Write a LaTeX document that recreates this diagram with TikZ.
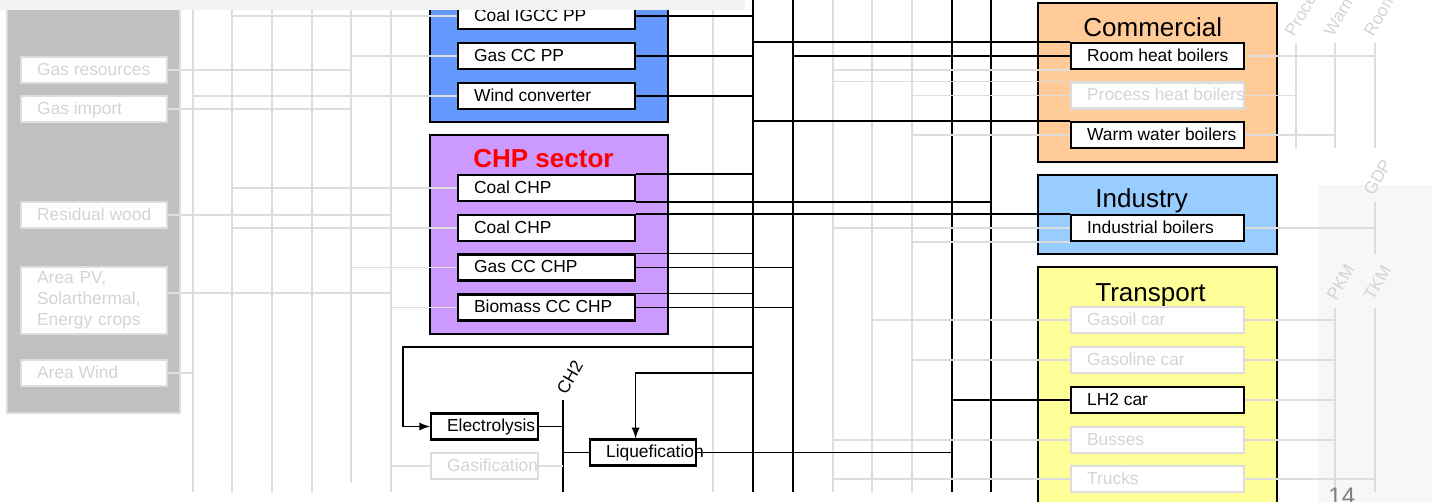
\documentclass[tikz,border=0pt]{standalone}
\usepackage{fontspec}
\setmainfont{Liberation Sans}
\usepackage{tikz}
\usetikzlibrary{arrows,calc}

\definecolor{powerblue}{HTML}{6699FF}
\definecolor{chppurple}{HTML}{CC99FF}
\definecolor{comorange}{HTML}{FFCC99}
\definecolor{indblue}{HTML}{99CCFF}
\definecolor{trayellow}{HTML}{FFFF99}
\definecolor{resgray}{HTML}{C0C0C0}
\definecolor{offline}{HTML}{DDDDDD}
\definecolor{offtext}{HTML}{D4D4D4}
\definecolor{stripgray}{HTML}{F2F2F2}
\definecolor{glassgray}{HTML}{F7F7F7}
\definecolor{pagegray}{HTML}{808080}

\newcommand{\unitfont}{\fontsize{8.7}{10.6}\selectfont}
\newcommand{\titlefont}{\fontsize{13}{15}\selectfont}

\begin{document}
\begin{tikzpicture}[x=0.5pt, y=-0.5pt,
    unit/.style={draw=black, line width=1.1pt, fill=white, anchor=west, inner xsep=8pt, inner ysep=0pt, minimum height=13pt, font=\unitfont},
    fixw/.style={text height=6.5pt, text depth=1pt, execute at begin node={\hbox to #1\bgroup}, execute at end node={\hss\egroup}},
    off/.style={draw=offline, text=offtext},
    sector/.style={draw=black, line width=1.1pt},
    title/.style={anchor=base west, inner sep=0pt, font=\titlefont},
    carrier/.style={draw=black, line width=0.85pt},
    offcarrier/.style={draw=offline, line width=0.85pt},
    arrow/.style={carrier, ->, >=latex},
    demand/.style={anchor=west, rotate=60, inner sep=0pt, font=\unitfont, text=offtext}
]

\useasboundingbox (0,0) rectangle (1432,502);
\clip (0,0) rectangle (1432,502);

% Slide background
\fill[glassgray] (1318,185) rectangle (1432,502);

% Sectors
\draw[draw=offline, line width=1.1pt, fill=resgray] (7,-10) rectangle (180,413);
\draw[sector, fill=powerblue] (430,-10) rectangle (668,122);
\draw[sector, fill=chppurple] (430,135) rectangle (668,334);
\draw[sector, fill=comorange] (1038,3) rectangle (1277,162);
\draw[sector, fill=indblue] (1038,175) rectangle (1277,254);
\draw[sector, fill=trayellow] (1038,267) rectangle (1277,520);

% Resources
\node[unit, off, fixw=57pt] (gasres) at (20,70) {Gas resources};
\node[unit, off, fixw=57pt] (gasimp) at (20,109) {Gas import};
\node[unit, off, fixw=57pt] (reswood) at (20,215) {Residual wood};
\node[unit, off, text width=57pt, align=left, minimum height=33.5pt] (areapv) at (20,300.5) {Area PV,\\Solarthermal,\\Energy crops};
\node[unit, off, fixw=57pt] (areawind) at (20,373) {Area Wind};

% Power plants
\node[unit, fixw=72.5pt] (coaligcc) at (457,16) {Coal IGCC PP};
\node[unit, fixw=72.5pt] (gasccpp) at (457,56) {Gas CC PP};
\node[unit, fixw=72.5pt] (windconv) at (457,96) {Wind converter};

% CHP sector
\node[title, text=red, font=\titlefont\bfseries] (chptitle) at (473,168) {CHP sector};
\node[unit, fixw=72.5pt] (coalchpa) at (457,188) {Coal CHP};
\node[unit, fixw=72.5pt] (coalchpb) at (457,228) {Coal CHP};
\node[unit, fixw=72.5pt] (gaschp) at (457,267.5) {Gas CC CHP};
\node[unit, fixw=72.5pt] (biochp) at (457,307.5) {Biomass CC CHP};

% Hydrogen
\node[unit, fixw=37.5pt] (electro) at (430,426.5) {Electrolysis};
\node[unit, off, fixw=37.5pt] (gasif) at (430,466) {Gasification};
\node[unit, fixw=37pt] (liquef) at (589,452.5) {Liquefication};
\node[anchor=west, rotate=60, inner sep=0pt, font=\unitfont] (chtwolabel) at (561,393) {CH2};

% Commercial
\node[title] (comtitle) at (1083,37) {Commercial};
\node[unit, fixw=70.5pt] (roomheat) at (1070,56) {Room heat boilers};
\node[unit, off, fixw=70.5pt] (procheat) at (1070,95.5) {Process heat boilers};
\node[unit, fixw=70.5pt] (warmwater) at (1070,135) {Warm water boilers};

% Industry
\node[title] (indtitle) at (1095,208) {Industry};
\node[unit, fixw=70.5pt] (indboil) at (1070,228) {Industrial boilers};

% Transport
\node[title] (trtitle) at (1095,302) {Transport};
\node[unit, off, fixw=70.5pt] (gasoilcar) at (1070,320) {Gasoil car};
\node[unit, off, fixw=70.5pt] (gasolinecar) at (1070,360) {Gasoline car};
\node[unit, fixw=70.5pt] (lhtwocar) at (1070,400) {LH2 car};
\node[unit, off, fixw=70.5pt] (busses) at (1070,440) {Busses};
\node[unit, off, fixw=70.5pt] (trucks) at (1070,479) {Trucks};

% Carrier buses
\coordinate (windbus) at (193,0);
\coordinate (coalbus) at (232,0);
\coordinate (cbusc) at (272,0);
\coordinate (cbusd) at (312,0);
\coordinate (gasbus) at (351,0);
\coordinate (biobus) at (391,0);
\coordinate (cbuse) at (713,0);
\coordinate (elecbus) at (753,0);
\coordinate (heatbus) at (793,0);
\coordinate (fbusa) at (833,0);
\coordinate (fbusb) at (872,0);
\coordinate (fbusc) at (912,0);
\coordinate (lhtwobus) at (952,0);
\coordinate (steambus) at (991,0);
\coordinate (chtwobus) at (563,400);

\draw[offcarrier] (windbus) -- ++(0,492);
\draw[offcarrier] (coalbus) -- ++(0,492);
\draw[offcarrier] (cbusc) -- ++(0,492);
\draw[offcarrier] (cbusd) -- ++(0,492);
\draw[offcarrier] (gasbus) -- ++(0,483);
\draw[offcarrier] (biobus) -- ++(0,492);
\draw[offcarrier] (cbuse) -- ++(0,492);
\draw[offcarrier] (fbusa) -- ++(0,492);
\draw[offcarrier] (fbusb) -- ++(0,492);
\draw[offcarrier] (fbusc) -- ++(0,492);
\draw[carrier] (elecbus) -- ++(0,492);
\draw[carrier] (heatbus) -- ++(0,492);
\draw[carrier] (lhtwobus) -- ++(0,492);
\draw[carrier] (steambus) -- ++(0,492);
\draw[carrier] (chtwobus) -- ++(0,92);

% Demand buses
\coordinate (proc) at (1296,43);
\coordinate (warm) at (1335,43);
\coordinate (room) at (1375,43);
\coordinate (gdp) at (1375,202);
\coordinate (pkm) at (1335,308);
\coordinate (tkm) at (1375,308);
\draw[offcarrier] (proc) -- ++(0,105);
\draw[offcarrier] (warm) -- ++(0,105);
\draw[offcarrier] (room) -- ++(0,105);
\draw[offcarrier] (gdp) -- ++(0,52);
\draw[offcarrier] (pkm) -- ++(0,184);
\draw[offcarrier] (tkm) -- ++(0,184);
\node[demand] (proclabel) at (1289,35) {Process};
\node[demand] (warmlabel) at (1328,35) {Warm};
\node[demand] (roomlabel) at (1368,35) {Room};
\node[demand] (gdplabel) at (1368,194) {GDP};
\node[demand] (pkmlabel) at (1331,299) {PKM};
\node[demand] (tkmlabel) at (1368,299) {TKM};

% Inactive flows
\draw[offcarrier] (gasres.east) -- (gasres.east -| gasbus);
\draw[offcarrier] (gasimp.east) -- (gasimp.east -| gasbus);
\draw[offcarrier] (reswood.east) -- (reswood.east -| biobus);
\draw[offcarrier] ([yshift=3.75pt]areapv.east) -- ([yshift=3.75pt]areapv.east -| biobus);
\draw[offcarrier] (areawind.east) -- (areawind.east -| windbus);
\draw[offcarrier] (coaligcc.west -| coalbus) -- (coaligcc.west);
\draw[offcarrier] (gasccpp.west -| gasbus) -- (gasccpp.west);
\draw[offcarrier] (windconv.west -| windbus) -- (windconv.west);
\draw[offcarrier] (coalchpa.west -| coalbus) -- (coalchpa.west);
\draw[offcarrier] (coalchpb.west -| coalbus) -- (coalchpb.west);
\draw[offcarrier] (gaschp.west -| gasbus) -- (gaschp.west);
\draw[offcarrier] (biochp.west -| biobus) -- (biochp.west);
\draw[offcarrier] (gasif.west -| biobus) -- (gasif.west);
\draw[offcarrier] (gasif.east) -- (gasif.east -| chtwobus);
\draw[offcarrier] (roomheat.south west -| fbusa) -- (roomheat.south west);
\draw[offcarrier] (procheat.north west -| fbusa) -- (procheat.north west);
\draw[offcarrier] (procheat.west -| fbusc) -- (procheat.west);
\draw[offcarrier] (warmwater.west -| fbusc) -- (warmwater.west);
\draw[offcarrier] (indboil.west -| fbusa) -- (indboil.west);
\draw[offcarrier] (indboil.south west -| fbusc) -- (indboil.south west);
\draw[offcarrier] (gasoilcar.west -| fbusb) -- (gasoilcar.west);
\draw[offcarrier] (gasolinecar.west -| fbusc) -- (gasolinecar.west);
\draw[offcarrier] (busses.west -| fbusa) -- (busses.west);
\draw[offcarrier] (trucks.west -| fbusa) -- (trucks.west);
\draw[offcarrier] (roomheat.east) -- (roomheat.east -| room);
\draw[offcarrier] (procheat.east) -- (procheat.east -| proc);
\draw[offcarrier] (warmwater.east) -- (warmwater.east -| warm);
\draw[offcarrier] (indboil.east) -- (indboil.east -| gdp);
\draw[offcarrier] (gasoilcar.east) -- (gasoilcar.east -| pkm);
\draw[offcarrier] (gasolinecar.east) -- (gasolinecar.east -| pkm);
\draw[offcarrier] (lhtwocar.east) -- (lhtwocar.east -| pkm);
\draw[offcarrier] (busses.east) -- (busses.east -| pkm);
\draw[offcarrier] (trucks.east) -- (trucks.east -| tkm);

% Electricity and heat
\draw[carrier] (coaligcc.east) -- (coaligcc.east -| elecbus);
\draw[carrier] (gasccpp.east) -- (gasccpp.east -| elecbus);
\draw[carrier] (windconv.east) -- (windconv.east -| elecbus);
\draw[carrier] (coalchpa.north east) -- (coalchpa.north east -| elecbus);
\draw[carrier] (coalchpa.south east) -- (coalchpa.south east -| steambus);
\draw[carrier] (coalchpb.north east) -- (indboil.north west);
\draw[carrier] (gaschp.north east) -- (gaschp.north east -| elecbus);
\draw[carrier] (gaschp.east) -- (gaschp.east -| heatbus);
\draw[carrier] (biochp.north east) -- (biochp.north east -| elecbus);
\draw[carrier] (biochp.east) -- (biochp.east -| heatbus);
\draw[carrier] (roomheat.north west -| elecbus) -- (roomheat.north west);
\draw[carrier] (roomheat.west -| heatbus) -- (roomheat.west);
\draw[carrier] (warmwater.north west -| elecbus) -- (warmwater.north west);

% Hydrogen path
\coordinate (eltap) at (753,347);
\coordinate (elbend) at (403,347);
\coordinate (liqtap) at (753,373);
\draw[arrow] (eltap) -- (elbend) |- (electro.west);
\draw[arrow] (liqtap) -| ([xshift=-3.75pt]liquef.north);
\draw[carrier] (electro.east) -- (electro.east -| chtwobus);
\draw[carrier] (liquef.west -| chtwobus) -- (liquef.west);
\draw[carrier] (liquef.east) -- (liquef.east -| lhtwobus);
\draw[carrier] (lhtwocar.west -| lhtwobus) -- (lhtwocar.west);

% Top strip and page number
\fill[stripgray] (0,0) rectangle (745,10);
\node[anchor=base west, inner sep=0pt, font=\fontsize{12}{14}\selectfont, text=pagegray] (pagenum) at (1328,505) {14};

\end{tikzpicture}
\end{document}
